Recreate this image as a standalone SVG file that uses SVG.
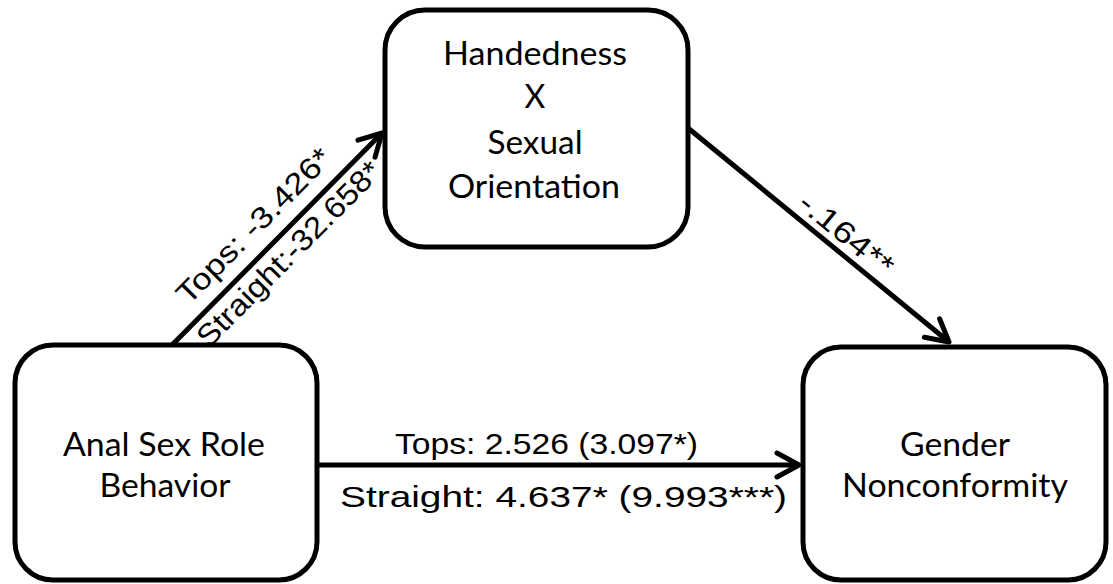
<svg xmlns="http://www.w3.org/2000/svg" width="1113" height="584" viewBox="0 0 1113 584">
<style>
.box{fill:#fff;stroke:#000;stroke-width:5}
.nt{font-family:Lato,"Open Sans",sans-serif;font-size:32px;fill:#000;text-anchor:middle}
.el{font-family:"Liberation Sans",Arial,sans-serif;font-size:30px;fill:#000;text-anchor:middle}
.edge{stroke:#000;stroke-width:5;fill:none}
</style>
<defs>
<marker id="arr" markerUnits="userSpaceOnUse" markerWidth="40" markerHeight="40" viewBox="-30 -20 40 40" refX="0" refY="0" orient="auto">
<path d="M -22 -12 L 0 0 L -22 12" fill="none" stroke="#000" stroke-width="5" stroke-linecap="round" stroke-linejoin="round"/>
</marker>
</defs>
<rect width="1113" height="584" fill="#fff"/>
<g id="connectors">
<line class="edge" x1="172" y1="345" x2="382" y2="133" marker-end="url(#arr)"/>
<line class="edge" x1="688" y1="128" x2="949" y2="342" marker-end="url(#arr)"/>
<line class="edge" x1="316" y1="465" x2="799" y2="465" marker-end="url(#arr)"/>
<text class="el" transform="translate(261,233) rotate(-45.2)" textLength="206" lengthAdjust="spacingAndGlyphs">Tops: -3.426*</text>
<text class="el" transform="translate(296,261) rotate(-45.2)" textLength="248" lengthAdjust="spacingAndGlyphs">Straight:-32.658*</text>
<text class="el" transform="translate(840,242) rotate(39.4)" textLength="113" lengthAdjust="spacingAndGlyphs">-.164**</text>
<text class="el" x="546.5" y="454" textLength="303" lengthAdjust="spacingAndGlyphs">Tops: 2.526 (3.097*)</text>
<text class="el" x="563.5" y="507" textLength="447" lengthAdjust="spacingAndGlyphs">Straight: 4.637* (9.993***)</text>
</g>
<g id="node-anal">
<rect class="box" x="15" y="345" width="302" height="235" rx="38"/>
<text class="nt" x="164" y="456" textLength="202" lengthAdjust="spacingAndGlyphs">Anal Sex Role</text>
<text class="nt" x="165" y="497" textLength="131" lengthAdjust="spacingAndGlyphs">Behavior</text>
</g>
<g id="node-handedness">
<rect class="box" x="385" y="10" width="303" height="237" rx="40"/>
<text class="nt" x="535" y="65" textLength="184" lengthAdjust="spacingAndGlyphs">Handedness</text>
<text class="nt" x="535" y="108">X</text>
<text class="nt" x="535" y="154" textLength="95" lengthAdjust="spacingAndGlyphs">Sexual</text>
<text class="nt" x="534" y="198" textLength="172" lengthAdjust="spacingAndGlyphs">Orientation</text>
</g>
<g id="node-gender">
<rect class="box" x="803" y="347" width="303" height="233" rx="38"/>
<text class="nt" x="955" y="456" textLength="110" lengthAdjust="spacingAndGlyphs">Gender</text>
<text class="nt" x="955" y="497" textLength="226" lengthAdjust="spacingAndGlyphs">Nonconformity</text>
</g>
</svg>
